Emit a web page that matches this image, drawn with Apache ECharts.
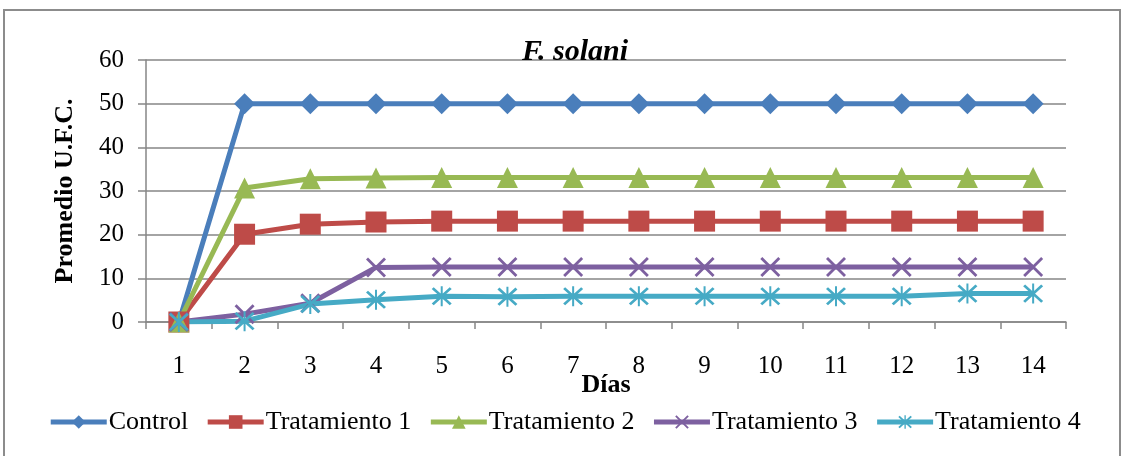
<!DOCTYPE html>
<html>
<head>
<meta charset="utf-8">
<script src="https://cdn.jsdelivr.net/npm/echarts@6/dist/echarts.min.js"></script>
<style>
  html, body { margin: 0; padding: 0; background: #ffffff; }
  #chart { width: 1129px; height: 456px; }
</style>
</head>
<body>
<div id="chart"></div>
<script>
// Days of incubation (x axis)
const dias = ['1', '2', '3', '4', '5', '6', '7', '8', '9', '10', '11', '12', '13', '14'];

// Mean colony-forming units per treatment
const control      = [0, 50, 50, 50, 50, 50, 50, 50, 50, 50, 50, 50, 50, 50];
const tratamiento1 = [0, 20.1, 22.4, 22.9, 23.1, 23.1, 23.1, 23.1, 23.1, 23.1, 23.1, 23.1, 23.1, 23.1];
const tratamiento2 = [0, 30.7, 32.8, 33.0, 33.1, 33.1, 33.1, 33.1, 33.1, 33.1, 33.1, 33.1, 33.1, 33.1];
const tratamiento3 = [0, 1.8, 4.3, 12.5, 12.6, 12.6, 12.6, 12.6, 12.6, 12.6, 12.6, 12.6, 12.6, 12.6];
const tratamiento4 = [0, 0.2, 4.1, 5.1, 5.9, 5.8, 5.9, 5.9, 5.9, 5.9, 5.9, 5.9, 6.5, 6.5];

const yTicks = { min: 0, max: 60, interval: 10 };

const SERIF = '"Liberation Serif", "Times New Roman", serif';

// Thin-stroke marker shapes built as filled outlines
const xMark = 'path://M0,1L1,0L10,9L9,10Z M9,0L10,1L1,10L0,9Z';
const starMark = 'path://M0,1L1,0L10,9L9,10Z M9,0L10,1L1,10L0,9Z M4.5,-0.5L5.5,-0.5L5.5,10.5L4.5,10.5Z';

function lineSeries(name, data, color, symbol, size) {
  return {
    name: name,
    type: 'line',
    data: data,
    symbol: symbol,
    symbolSize: size,
    showAllSymbol: true,
    lineStyle: { color: color, width: 5 },
    itemStyle: { color: color },
    emphasis: { disabled: true },
    animation: false
  };
}

const chart = echarts.init(document.getElementById('chart'));
chart.setOption({
  backgroundColor: '#ffffff',
  animation: false,
  title: {
    text: 'F. solani',
    left: 570,
    textAlign: 'center',
    top: 32,
    textStyle: { fontFamily: SERIF, fontSize: 30, fontWeight: 'bold', fontStyle: 'italic', color: '#000' }
  },
  graphic: [{
    type: 'rect',
    shape: { x: 4, y: 10, width: 1116, height: 470 },
    style: { fill: 'none', stroke: '#8c8c8c', lineWidth: 2 },
    silent: true
  }],
  legend: {
    bottom: 16,
    left: 'center',
    itemWidth: 56,
    itemHeight: 17,
    itemGap: 17,
    lineStyle: { width: 5 },
    textStyle: { fontFamily: SERIF, fontSize: 26, color: '#000', padding: [0, 0, 0, -3] },
    data: ['Control', 'Tratamiento 1', 'Tratamiento 2', 'Tratamiento 3', 'Tratamiento 4']
  },
  grid: { left: 146, right: 63, top: 60, bottom: 134 },
  xAxis: {
    type: 'category',
    data: dias,
    boundaryGap: true,
    name: 'Días',
    nameLocation: 'middle',
    nameGap: 50,
    nameMoveOverlap: false,
    nameTextStyle: { fontFamily: SERIF, fontSize: 26, fontWeight: 'bold', color: '#000' },
    axisLine: { lineStyle: { color: '#868686', width: 1.5 } },
    axisTick: { show: true, length: 7, alignWithLabel: false, lineStyle: { color: '#868686', width: 1.5 } },
    axisLabel: { fontFamily: SERIF, fontSize: 25, color: '#000', margin: 32 },
    splitLine: { show: false }
  },
  yAxis: {
    type: 'value',
    min: yTicks.min,
    max: yTicks.max,
    interval: yTicks.interval,
    name: 'Promedio U.F.C.',
    nameLocation: 'middle',
    nameGap: 68,
    nameMoveOverlap: false,
    nameTextStyle: { fontFamily: SERIF, fontSize: 26, fontWeight: 'bold', color: '#000' },
    axisLine: { show: true, lineStyle: { color: '#868686', width: 1.5 } },
    axisTick: { show: true, length: 8, lineStyle: { color: '#868686', width: 1.5 } },
    axisLabel: { fontFamily: SERIF, fontSize: 25, color: '#000', margin: 22 },
    splitLine: { show: true, lineStyle: { color: '#868686', width: 1.5 } }
  },
  series: [
    lineSeries('Control', control, '#4a7ebb', 'diamond', 21),
    lineSeries('Tratamiento 1', tratamiento1, '#be4b48', 'rect', 21),
    lineSeries('Tratamiento 2', tratamiento2, '#98b954', 'triangle', 21),
    lineSeries('Tratamiento 3', tratamiento3, '#7d60a0', xMark, 20),
    lineSeries('Tratamiento 4', tratamiento4, '#46aac5', starMark, 20)
  ]
});
</script>
</body>
</html>
